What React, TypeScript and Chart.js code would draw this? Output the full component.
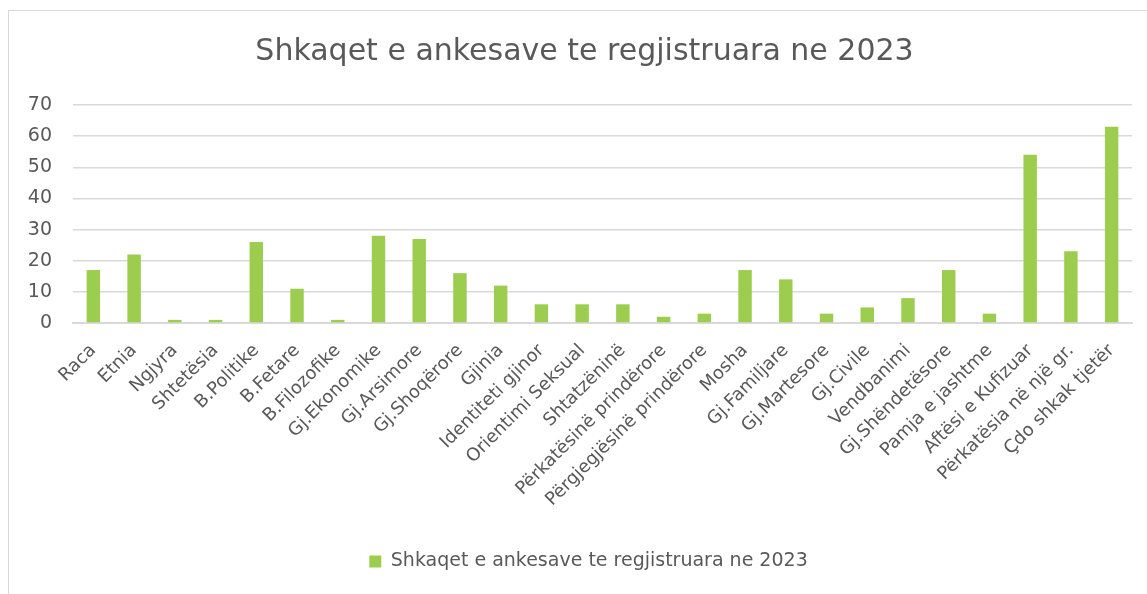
import React, { useEffect, useRef } from "react";
import { Chart, registerables } from "chart.js";

Chart.register(...registerables);

const categories: string[] = [
  "Raca", "Etnia", "Ngjyra", "Shtetësia", "B.Politike", "B.Fetare", "B.Filozofike",
  "Gj.Ekonomike", "Gj.Arsimore", "Gj.Shoqërore", "Gjinia", "Identiteti gjinor",
  "Orientimi Seksual", "Shtatzëninë", "Përkatësinë prindërore", "Përgjegjësinë prindërore",
  "Mosha", "Gj.Familjare", "Gj.Martesore", "Gj.Civile", "Vendbanimi", "Gj.Shëndetësore",
  "Pamja e jashtme", "Aftësi e Kufizuar", "Përkatësia në një gr.", "Çdo shkak tjetër",
];

const values: number[] = [
  17, 22, 1, 1, 26, 11, 1, 28, 27, 16, 12, 6, 6, 6, 2, 3, 17, 14, 3, 5, 8, 17, 3, 54, 23, 63,
];

const yTicks: number[] = [0, 10, 20, 30, 40, 50, 60, 70];

const seriesName = "Shkaqet e ankesave te regjistruara ne 2023";
const titleText = "Shkaqet e ankesave te regjistruara ne 2023";

const FONT = "'DejaVu Sans', sans-serif";
const TEXT = "#595959";
const GRID = "#d9d9d9";
const BAR = "#9ccd4e";

const shiftBoxes = {
  id: "shiftBoxes",
  afterLayout(chart: any) {
    if (chart.legend) {
      chart.legend.left += 11;
      chart.legend.right += 11;
      chart.legend.top += 3;
      chart.legend.bottom += 3;
    }
    if (chart.titleBlock) {
      chart.titleBlock.left += 7;
      chart.titleBlock.right += 7;
    }
  },
};

export default function App() {
  const ref = useRef<HTMLCanvasElement | null>(null);

  useEffect(() => {
    if (!ref.current) return;
    const chart = new Chart(ref.current, {
      type: "bar",
      data: {
        labels: categories,
        datasets: [
          {
            label: seriesName,
            data: values,
            backgroundColor: BAR,
            borderWidth: 0,
            categoryPercentage: 1,
            barPercentage: 0.33,
          },
        ],
      },
      plugins: [shiftBoxes],
      options: {
        animation: false,
        responsive: false,
        maintainAspectRatio: false,
        layout: { padding: { left: 14, right: 15, top: 0, bottom: 16 } },
        plugins: {
          title: {
            display: true,
            text: titleText,
            color: TEXT,
            font: { family: FONT, size: 30, weight: "normal" },
            padding: { top: 23, bottom: 35 },
          },
          legend: {
            display: true,
            position: "bottom",
            labels: {
              color: TEXT,
              font: { family: FONT, size: 19 },
              boxWidth: 12,
              boxHeight: 12,
              padding: 9,
            },
          },
          tooltip: { enabled: false },
        },
        scales: {
          x: {
            grid: { display: false, drawTicks: false },
            border: { display: true, color: GRID, width: 2 },
            ticks: {
              color: TEXT,
              font: { family: FONT, size: 18 },
              maxRotation: 45,
              minRotation: 45,
              autoSkip: false,
              padding: 17,
            },
            afterFit: (scale: any) => {
              scale.height = 217;
            },
          },
          y: {
            min: 0,
            max: 70,
            afterBuildTicks: (scale: any) => {
              scale.ticks = yTicks.map((v) => ({ value: v }));
            },
            grid: { color: GRID, lineWidth: 1.5, drawTicks: false },
            border: { display: false },
            ticks: {
              color: TEXT,
              font: { family: FONT, size: 19 },
              padding: 21,
            },
            afterFit: (scale: any) => {
              scale.width = 50;
            },
          },
        },
      },
    });
    return () => chart.destroy();
  }, []);

  return (
    <div
      style={{
        position: "absolute",
        left: 8,
        top: 10,
        width: 1138,
        height: 583,
        borderTop: "1px solid #d9d9d9",
        borderLeft: "1px solid #d9d9d9",
        background: "#fff",
      }}
    >
      <canvas ref={ref} width={1138} height={583} style={{ display: "block" }} />
    </div>
  );
}
